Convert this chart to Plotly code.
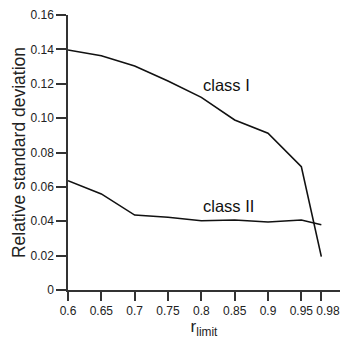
import plotly.graph_objects as go

r_limit = [0.6, 0.65, 0.7, 0.75, 0.8, 0.85, 0.9, 0.95, 0.98]
class_I = [0.1396, 0.1363, 0.1303, 0.1216, 0.1121, 0.0989, 0.0912, 0.0718, 0.0194]
class_II = [0.0636, 0.0559, 0.0436, 0.0423, 0.0403, 0.0407, 0.0396, 0.0407, 0.0380]

x_ticks = [0.6, 0.65, 0.7, 0.75, 0.8, 0.85, 0.9, 0.95, 0.98]
x_ticktext = ["0.6", "0.65", "0.7", "0.75", "0.8", "0.85", "0.9", "0.95",
              "&nbsp;&nbsp;&nbsp;&nbsp;0.98"]
y_ticks = [0, 0.02, 0.04, 0.06, 0.08, 0.10, 0.12, 0.14, 0.16]
y_ticktext = ["0", "0.02", "0.04", "0.06", "0.08", "0.10", "0.12", "0.14", "0.16"]

labels = ["class I", "class II"]
label_x = [0.838, 0.840]
label_y = [0.119, 0.0489]

font = "Liberation Sans, Arial, sans-serif"

fig = go.Figure()
for ys in (class_I, class_II):
    fig.add_trace(go.Scatter(x=r_limit, y=ys, mode="lines",
                             line=dict(color="#111111", width=1.6),
                             showlegend=False, hoverinfo="skip"))

for t, lx, ly in zip(labels, label_x, label_y):
    fig.add_annotation(x=lx, y=ly, text=t, showarrow=False,
                       font=dict(family=font, size=16.5, color="#111111"))

fig.update_layout(
    width=340, height=339,
    margin=dict(l=68, r=0, t=15, b=49, autoexpand=False),
    paper_bgcolor="white", plot_bgcolor="white",
    font=dict(family=font, color="#222222"),
    xaxis=dict(range=[0.6, 1.008], tickvals=x_ticks, ticktext=x_ticktext,
               tickangle=0, automargin=False, ticklabeloverflow="allow",
               showgrid=False, zeroline=False, showline=True,
               linecolor="#333333", linewidth=1.5,
               ticks="outside", ticklen=9, tickwidth=1.5, tickcolor="#333333",
               tickfont=dict(size=12, family=font),
               title=dict(text="r<sub>limit</sub>", font=dict(size=17, family=font), standoff=4)),
    yaxis=dict(range=[0, 0.16], tickvals=y_ticks, ticktext=y_ticktext,
               automargin=False,
               showgrid=False, zeroline=False, showline=True,
               linecolor="#333333", linewidth=1.5,
               ticks="outside", ticklen=10, tickwidth=1.5, tickcolor="#333333",
               tickfont=dict(size=12, family=font),
               title=dict(text="Relative standard deviation", font=dict(size=17.5, family=font), standoff=0)),
)

fig.write_html("out.html", config={"displayModeBar": False},
               post_script="document.body.style.margin='0px';document.body.style.overflow='hidden';")
